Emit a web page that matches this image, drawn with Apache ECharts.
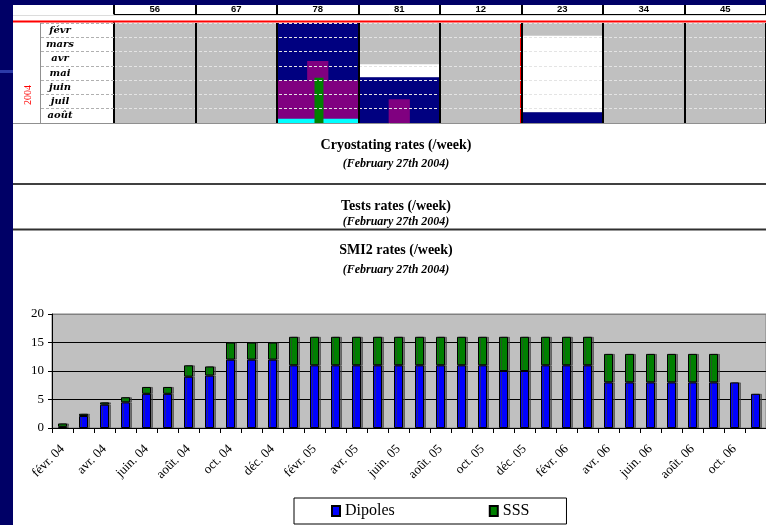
<!DOCTYPE html>
<html><head><meta charset="utf-8">
<script src="https://cdn.jsdelivr.net/npm/echarts@6/dist/echarts.min.js"></script>
<style>html,body{margin:0;padding:0;background:#fff;}#c{width:766px;height:525px;}</style>
</head><body><div id="c"></div>
<script>
// ---- bottom chart data (SMI2 rates per week) ----
const months = ['févr. 04','mars 04','avr. 04','mai 04','juin. 04','juil. 04','août. 04','sept. 04','oct. 04','nov. 04','déc. 04',
  'janv. 05','févr. 05','mars 05','avr. 05','mai 05','juin. 05','juil. 05','août. 05','sept. 05','oct. 05','nov. 05','déc. 05',
  'janv. 06','févr. 06','mars 06','avr. 06','mai 06','juin. 06','juil. 06','août. 06','sept. 06','oct. 06','nov. 06'];
const dipoles = [0.2,2.1,4.1,4.5,6,6,9,9.2,12,12,12,11,11,11,11,11,11,11,11,11,11,10,10,11,11,11,8,8,8,8,8,8,8,6];
const sss     = [0.6,0.4,0.4,0.9,1.2,1.2,2,1.6,3,3,3,5,5,5,5,5,5,5,5,5,5,6,6,5,5,5,5,5,5,5,5,5,null,null];
const yTicks = [0,5,10,15,20];

// ---- top planning panel data ----
const modules = ['56','67','78','81','12','23','34','45'];
const rowMonths = ['févr','mars','avr','mai','juin','juil','août'];
// [colStart, colEnd, rowStart, rowEnd, kind]
const blocks = [
  [2,3,0,7,'navy'],
  [2,3,4,7,'purple'],
  [2.37,2.63,2.66,4,'purple'],
  [2,3,6.7,7,'cyan'],
  [2.46,2.57,3.83,7,'green'],
  [3,4,2.89,3.8,'white'],
  [3,4,3.8,7,'navy'],
  [3.37,3.63,5.34,7,'purple'],
  [5,6,0.89,6.25,'white'],
  [5,6,6.25,7,'navy']
];
const redMarker = 5;
const titles = [
  ['Cryostating rates (/week)','(February 27th 2004)'],
  ['Tests rates (/week)','(February 27th 2004)'],
  ['SMI2 rates (/week)','(February 27th 2004)']
];

const kindColor = {navy:'#000080', purple:'#800080', green:'#008000', cyan:'#00ffff', white:'#ffffff'};
const serif = 'Liberation Serif';

const titleY = [[145,164],[206,222],[250,270]];
const graphic = [
  {type:'rect', shape:{x:0,y:0,width:766,height:5}, style:{fill:'#000066'}, z:100},
  {type:'rect', shape:{x:0,y:0,width:13,height:525}, style:{fill:'#000066'}, z:100},
  {type:'rect', shape:{x:0,y:70,width:13,height:3}, style:{fill:'#2b3aa8'}, z:101},
  {type:'line', shape:{x1:13,y1:15.5,x2:766,y2:15.5}, style:{stroke:'#dcdcdc', lineWidth:1}, z:50},
  {type:'line', shape:{x1:13,y1:21.5,x2:766,y2:21.5}, style:{stroke:'#ff0000', lineWidth:2}, z:50},
  {type:'line', shape:{x1:40.5,y1:23,x2:40.5,y2:123}, style:{stroke:'#909090', lineWidth:1}, z:50},
  {type:'line', shape:{x1:13,y1:123.5,x2:766,y2:123.5}, style:{stroke:'#909090', lineWidth:1}, z:50},
  {type:'line', shape:{x1:13,y1:184,x2:766,y2:184}, style:{stroke:'#404040', lineWidth:2}, z:50},
  {type:'line', shape:{x1:13,y1:229.5,x2:766,y2:229.5}, style:{stroke:'#303030', lineWidth:2}, z:50},
  {type:'text', x:28, y:95, rotation:Math.PI/2, style:{text:'2004', fill:'#ff0000', font:'10px '+serif, textAlign:'center', textVerticalAlign:'middle'}, z:50}
];
titles.forEach((t,i)=>{
  graphic.push({type:'text', x:396, y:titleY[i][0], style:{text:t[0], fill:'#000', font:'bold 14px '+serif, textAlign:'center', textVerticalAlign:'middle'}, z:40});
  graphic.push({type:'text', x:396, y:titleY[i][1], style:{text:t[1], fill:'#000', font:'italic bold 12px '+serif, textAlign:'center', textVerticalAlign:'middle'}, z:40});
});

const chart = echarts.init(document.getElementById('c'));
chart.setOption({
  backgroundColor:'#ffffff',
  animation:false,
  graphic: graphic,
  grid:[
    {left:114, top:23, width:656, height:100, show:true, backgroundColor:'#c0c0c0', borderWidth:0},
    {left:52, top:314, right:-6, height:114, show:true, backgroundColor:'#c0c0c0', borderColor:'#808080', borderWidth:1}
  ],
  xAxis:[
    {type:'value', gridIndex:0, min:0, max:8, interval:1, position:'bottom', z:10,
     axisLine:{show:false}, axisTick:{show:false}, axisLabel:{show:false},
     splitLine:{show:true, lineStyle:{color:'#000', width:2}}},
    {type:'category', gridIndex:0, data:modules, position:'top', offset:9, z:10,
     axisLine:{show:true, lineStyle:{color:'#000', width:1}},
     axisTick:{show:true, length:9, lineStyle:{color:'#000', width:2}},
     axisLabel:{margin:0, fontSize:9.5, fontWeight:'bold', fontFamily:'Liberation Sans', color:'#000'},
     splitLine:{show:false}},
    {type:'category', gridIndex:1, data:months,
     axisLine:{show:true, lineStyle:{color:'#000'}},
     axisTick:{show:true, interval:0, length:5, lineStyle:{color:'#000'}},
     axisLabel:{interval:1, rotate:45, margin:19, fontSize:13, fontFamily:serif, color:'#000'},
     splitLine:{show:false}}
  ],
  yAxis:[
    {type:'category', gridIndex:0, data:rowMonths, inverse:true, position:'left', z:10,
     axisLine:{show:true, lineStyle:{color:'#000', width:2}},
     axisTick:{show:true, length:73, lineStyle:{color:'#b0b0b0', type:[3,2]}},
     axisLabel:{margin:54, align:'center', fontSize:10, fontWeight:'bold', fontStyle:'italic', fontFamily:'DejaVu Serif', color:'#000'},
     splitLine:{show:true, lineStyle:{color:'#e4e4e4', type:[3,2]}}},
    {type:'value', gridIndex:0, min:0, max:7, inverse:true, position:'right', show:false},
    {type:'value', gridIndex:1, min:yTicks[0], max:yTicks[yTicks.length-1], interval:5,
     axisLine:{show:true, lineStyle:{color:'#000'}},
     axisTick:{show:true, length:4, lineStyle:{color:'#000'}},
     axisLabel:{margin:8, fontSize:13, fontFamily:serif, color:'#000'},
     splitLine:{show:true, lineStyle:{color:['#000','#000','#000','#000','#808080'], width:1}}}
  ],
  legend:{
    data:['Dipoles','SSS'], left:294, top:498, orient:'horizontal',
    backgroundColor:'#fff', borderColor:'#000', borderWidth:1,
    padding:[5,37,5,37], itemGap:94, itemWidth:8, itemHeight:10, icon:'rect',
    textStyle:{fontFamily:serif, fontSize:16, color:'#000'}
  },
  series:[
    {type:'custom', xAxisIndex:0, yAxisIndex:1, z:2, data:blocks.map(b=>b.slice(0,4)),
     encode:{x:[0,1], y:[2,3]},
     renderItem:function(params, api){
       const p0 = api.coord([api.value(0), api.value(2)]);
       const p1 = api.coord([api.value(1), api.value(3)]);
       return {type:'rect', shape:{x:Math.min(p0[0],p1[0]), y:Math.min(p0[1],p1[1]),
         width:Math.abs(p1[0]-p0[0]), height:Math.abs(p1[1]-p0[1])},
         style:{fill:kindColor[blocks[params.dataIndex][4]]}};
     }},
    {type:'line', xAxisIndex:0, yAxisIndex:1, z:12, data:[], silent:true,
     markLine:{silent:true, symbol:'none', label:{show:false}, animation:false,
       lineStyle:{color:'#ff0000', width:3, type:'solid'}, data:[{xAxis:redMarker}]}},
    {type:'bar', name:'Dipoles', xAxisIndex:2, yAxisIndex:2, stack:'s', data:dipoles, barWidth:9,
     itemStyle:{color:'#0000ff', borderColor:'#000', borderWidth:1, shadowColor:'rgba(60,60,60,0.6)', shadowOffsetX:2, shadowOffsetY:0, shadowBlur:0}},
    {type:'bar', name:'SSS', xAxisIndex:2, yAxisIndex:2, stack:'s', data:sss, barWidth:9,
     itemStyle:{color:'#008000', borderColor:'#000', borderWidth:1, shadowColor:'rgba(60,60,60,0.6)', shadowOffsetX:2, shadowOffsetY:0, shadowBlur:0}}
  ]
});
</script></body></html>
